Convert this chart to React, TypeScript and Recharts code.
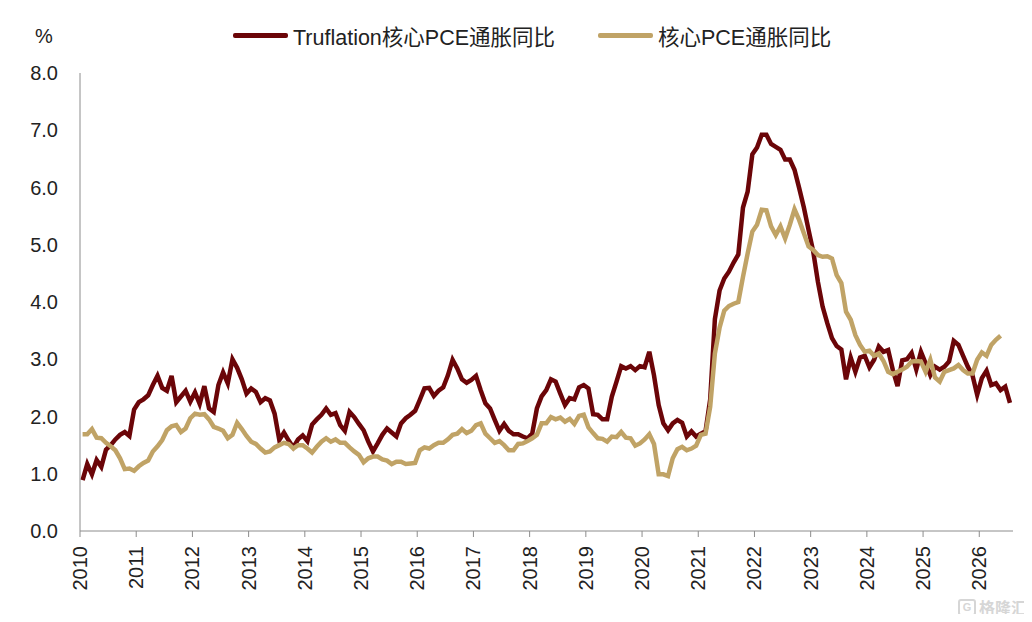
import { LineChart, Line, XAxis, YAxis, Legend } from "recharts";

const RED = "#6B0508";
const TAN = "#C0A366";
const AXIS = "#8C8C8C";
const FONT = '"Liberation Sans", "Noto Sans CJK SC", sans-serif';

const yearTicks = [
  2010, 2011, 2012, 2013, 2014, 2015, 2016, 2017, 2018, 2019, 2020, 2021, 2022,
  2023, 2024, 2025, 2026,
];
const valueTicks = [0, 1, 2, 3, 4, 5, 6, 7, 8];

const truflation = [
  0.89, 1.17, 0.99, 1.24, 1.12, 1.42, 1.5, 1.6, 1.68, 1.73, 1.66, 2.12,
  2.25, 2.3, 2.37, 2.55, 2.71, 2.5, 2.45, 2.71, 2.25, 2.35, 2.45, 2.26,
  2.42, 2.22, 2.53, 2.14, 2.08, 2.55, 2.77, 2.58, 3.0, 2.85, 2.65, 2.4,
  2.49, 2.43, 2.25, 2.32, 2.28, 2.05, 1.59, 1.72, 1.58, 1.46, 1.6, 1.67,
  1.57, 1.86, 1.95, 2.03, 2.14, 2.03, 2.06, 1.85, 1.75, 2.08, 1.99, 1.87,
  1.76, 1.56, 1.39, 1.53, 1.68, 1.79, 1.72, 1.65, 1.88, 1.97, 2.03, 2.1,
  2.29, 2.49, 2.5, 2.36, 2.45, 2.51, 2.72, 2.99, 2.84, 2.65, 2.59, 2.64,
  2.71, 2.46, 2.23, 2.14, 1.94, 1.75, 1.87, 1.75, 1.69, 1.69, 1.65, 1.62,
  1.7, 2.14, 2.35, 2.46, 2.65, 2.61, 2.4, 2.2, 2.32, 2.3, 2.51, 2.55,
  2.49, 2.04, 2.03, 1.95, 1.95, 2.35, 2.61, 2.88, 2.84, 2.88, 2.81, 2.88,
  2.86, 3.13, 2.72, 2.2, 1.88, 1.76, 1.88, 1.94, 1.89, 1.65, 1.74, 1.65,
  1.7, 1.74, 2.3, 3.7, 4.2, 4.41, 4.53, 4.69, 4.83, 5.65, 5.93, 6.58,
  6.7, 6.92, 6.92, 6.76, 6.71, 6.66, 6.49, 6.49, 6.31, 5.99, 5.65, 5.26,
  4.88, 4.35, 3.92, 3.63, 3.37, 3.23, 3.17, 2.65, 3.03, 2.78, 3.03, 3.06,
  2.86, 2.99, 3.22, 3.13, 3.16, 2.81, 2.53, 2.98, 3.0, 3.11, 2.82, 3.13,
  2.93, 2.72, 2.87, 2.82, 2.87, 2.96, 3.32, 3.25, 3.06, 2.87, 2.72, 2.38,
  2.67, 2.8, 2.55, 2.58, 2.46, 2.52, 2.24,
];

const corePce = [
  1.69, 1.69, 1.78, 1.63, 1.62, 1.54, 1.48, 1.41, 1.27, 1.08, 1.09, 1.05,
  1.13, 1.19, 1.23, 1.39, 1.48, 1.59, 1.76, 1.83, 1.85, 1.73, 1.79, 1.97,
  2.05, 2.03, 2.04, 1.95, 1.82, 1.79, 1.75, 1.62, 1.68, 1.89, 1.78, 1.66,
  1.56, 1.52, 1.44, 1.37, 1.39, 1.46, 1.5, 1.54, 1.52, 1.44, 1.5, 1.5,
  1.44, 1.37, 1.47, 1.56, 1.62, 1.56, 1.6, 1.54, 1.54, 1.46, 1.39, 1.33,
  1.2, 1.27, 1.3, 1.3, 1.25, 1.23, 1.17, 1.21, 1.21, 1.17, 1.18, 1.19,
  1.41, 1.46, 1.44, 1.5, 1.54, 1.54, 1.6, 1.68, 1.7, 1.78, 1.71, 1.75,
  1.85, 1.88, 1.7, 1.62, 1.54, 1.57, 1.5, 1.41, 1.41, 1.52, 1.53, 1.57,
  1.62, 1.68, 1.88, 1.88, 1.99, 1.95, 1.98, 1.91, 1.96, 1.87, 2.01, 2.03,
  1.81, 1.71, 1.62, 1.61, 1.56, 1.65, 1.64, 1.73, 1.63, 1.62, 1.49, 1.53,
  1.6, 1.69, 1.52, 0.99, 0.99, 0.96, 1.27, 1.43, 1.47, 1.41, 1.44, 1.49,
  1.68, 1.7, 2.17, 3.1, 3.55, 3.85, 3.93, 3.97, 4.0, 4.44, 4.85, 5.23,
  5.35, 5.61, 5.6, 5.32, 5.17, 5.32, 5.11, 5.35, 5.62, 5.43, 5.2, 4.97,
  4.91, 4.82, 4.79, 4.8, 4.76, 4.47, 4.33, 3.83, 3.69, 3.42, 3.25, 3.13,
  3.15, 3.06, 3.1, 2.97, 2.78, 2.74, 2.78, 2.82, 2.87, 2.96, 2.97, 2.96,
  2.78, 2.99, 2.68, 2.61, 2.78, 2.81, 2.84, 2.9, 2.81, 2.75, 2.75, 2.99,
  3.12, 3.06, 3.25, 3.34, 3.41,
];

const RED_NAME = "Truflation核心PCE通胀同比";
const TAN_NAME = "核心PCE通胀同比";

// monthly readings, each sits a little past the start of its month
const data = truflation.map((v, i) => ({
  t: 2010 + (i + 0.55) / 12,
  truflation: v,
  corePce: i < corePce.length ? corePce[i] : null,
}));

function YearTick({ x, y, payload }: any) {
  return (
    <text
      x={x + 7}
      y={y + 7}
      transform={`rotate(-90 ${x + 7} ${y + 7})`}
      textAnchor="end"
      fontSize={20}
      fontFamily={FONT}
      fill="#222"
    >
      {payload.value}
    </text>
  );
}

function LegendRow() {
  const item = (color: string, name: string, left: number) => (
    <div
      style={{
        position: "absolute",
        left,
        top: 0,
        display: "flex",
        alignItems: "center",
        height: 30,
        whiteSpace: "nowrap",
      }}
    >
      <span
        style={{
          display: "inline-block",
          width: 55,
          height: 5,
          borderRadius: 2,
          background: color,
          marginRight: 5,
        }}
      />
      <span style={{ fontSize: 21.5, fontFamily: FONT, color: "#222" }}>{name}</span>
    </div>
  );
  return (
    <div style={{ position: "relative", width: 1032, height: 30 }}>
      {item(RED, RED_NAME, 233)}
      {item(TAN, TAN_NAME, 598)}
    </div>
  );
}

export default function App() {
  return (
    <div style={{ position: "relative", width: 1032, height: 622, margin: -8, overflow: "hidden" }}>
      <div style={{ position: "absolute", left: 35, top: 25, fontSize: 20, fontFamily: FONT, color: "#222" }}>%</div>
      <LineChart
        width={1032}
        height={622}
        data={data}
        margin={{ top: 43, right: 19, bottom: 0, left: 0 }}
      >
        <XAxis
          dataKey="t"
          type="number"
          domain={[2010, 2026.6]}
          ticks={yearTicks}
          interval={0}
          height={91}
          stroke={AXIS}
          tickSize={6}
          tick={<YearTick />}
        />
        <YAxis
          domain={[0, 8]}
          ticks={valueTicks}
          interval={0}
          width={80}
          stroke={AXIS}
          tickLine={false}
          tickMargin={16}
          tickFormatter={(v: number) => v.toFixed(1)}
          tick={{ fontSize: 20, fontFamily: FONT, fill: "#222" }}
        />
        <Legend
          verticalAlign="top"
          content={<LegendRow />}
          wrapperStyle={{ left: 0, top: 20, width: 1032 }}
        />
        <Line
          dataKey="truflation"
          name={RED_NAME}
          stroke={RED}
          strokeWidth={4.5}
          dot={false}
          isAnimationActive={false}
        />
        <Line
          dataKey="corePce"
          name={TAN_NAME}
          stroke={TAN}
          strokeWidth={4.5}
          dot={false}
          isAnimationActive={false}
        />
      </LineChart>
      <div style={{ position: "absolute", left: 958, top: 595, display: "flex", alignItems: "center", gap: 3, fontSize: 16, fontFamily: FONT, color: "#d6d6d6", fontWeight: 700 }}>
        <span style={{ border: "2px solid #d6d6d6", borderRadius: 3, width: 14, height: 13, lineHeight: "13px", fontSize: 11, textAlign: "center" }}>G</span>
        <span>格隆汇</span>
      </div>
    </div>
  );
}
